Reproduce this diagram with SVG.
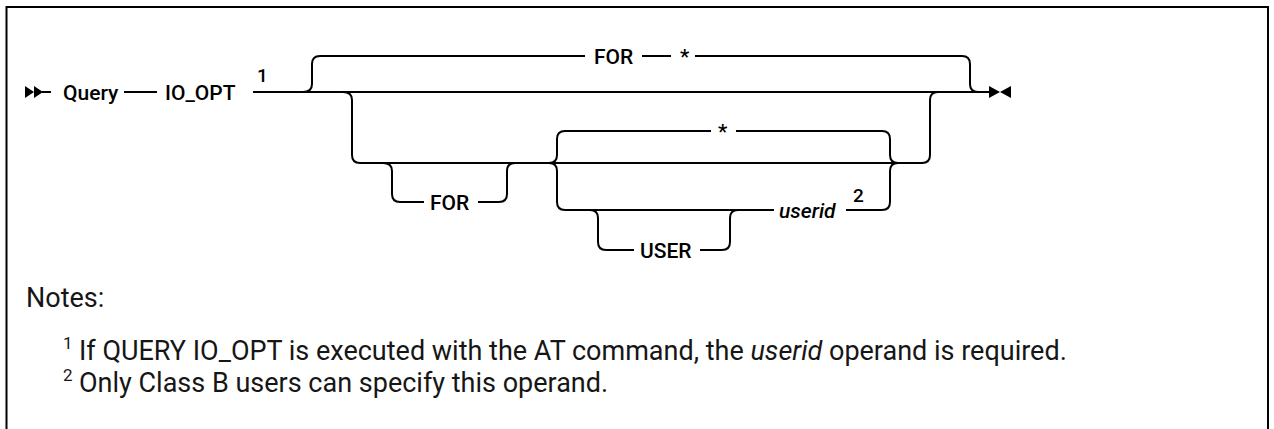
<svg xmlns="http://www.w3.org/2000/svg" width="1274" height="429" viewBox="0 0 1274 429">
<style>
.ln{fill:none;stroke:#000;stroke-width:2}
.kw{font-family:Roboto,"Liberation Sans",sans-serif;font-weight:500;font-size:21px;fill:#000}
.var{font-family:Roboto,"Liberation Sans",sans-serif;font-weight:500;font-style:italic;font-size:21px;fill:#000}
.sup{font-family:Roboto,"Liberation Sans",sans-serif;font-weight:500;font-size:19px;fill:#000}
.nt{font-family:Roboto,"Liberation Sans",sans-serif;font-size:27px;fill:#161616}
.nsup{font-family:Roboto,"Liberation Sans",sans-serif;font-size:17px;fill:#161616}
.mk{fill:#000}
</style>
<rect width="1274" height="429" fill="#fff"/>
<path class="ln" d="M6.5,429 V7 H1268 V429"/>
<g id="connectors">
  <path class="ln" d="M42,92 H51"/>
  <path class="ln" d="M124,92 H157"/>
  <path class="ln" d="M253,92 H989"/>
  <path class="ln" d="M303,92 Q312,92 312,84 V64 Q312,56 320,56 H585"/>
  <path class="ln" d="M642,56 H671"/>
  <path class="ln" d="M695,56 H962 Q970,56 970,64 V84 Q970,92 978,92"/>
  <path class="ln" d="M343,92 Q352,92 352,100 V155 Q352,163 360,163 H922 Q930,163 930,155 V100 Q930,92 938,92"/>
  <path class="ln" d="M383,163 Q392,163 392,171 V194 Q392,202 400,202 H424"/>
  <path class="ln" d="M478,202 H499 Q507,202 507,194 V171 Q507,163 515,163"/>
  <path class="ln" d="M549,163 Q557,163 557,155 V139 Q557,131 565,131 H711"/>
  <path class="ln" d="M736,131 H882 Q890,131 890,139 V155 Q890,163 898,163"/>
  <path class="ln" d="M549,163 Q557,163 557,171 V202 Q557,210 565,210 H774"/>
  <path class="ln" d="M846,210 H882 Q890,210 890,202 V171 Q890,163 898,163"/>
  <path class="ln" d="M590,210 Q598,210 598,218 V242 Q598,250 606,250 H634"/>
  <path class="ln" d="M700,250 H722 Q730,250 730,242 V218 Q730,210 738,210"/>
</g>
<g id="start"><path class="mk" d="M25,86 L34,92 L25,98 Z M34,86 L43,92 L34,98 Z"/></g>
<g id="end"><path class="mk" d="M989,86 L1000,92 L989,98 Z M1011,86 L1000,92 L1011,98 Z"/></g>
<g id="query"><text class="kw" x="63" y="99.5">Query</text></g>
<g id="io_opt"><text class="kw" x="165" y="99.5">IO_OPT</text><text class="sup" x="257" y="82">1</text></g>
<g id="for_star"><text class="kw" x="594" y="63.5">FOR</text><text class="kw" x="680" y="63.5">*</text></g>
<g id="for_opt"><text class="kw" x="430" y="209.5">FOR</text></g>
<g id="star_default"><text class="kw" x="718" y="138.5">*</text></g>
<g id="user_opt"><text class="kw" x="640" y="257.5">USER</text></g>
<g id="userid"><text class="var" x="779" y="217.5">userid</text><text class="sup" x="853" y="202">2</text></g>
<g id="notes">
  <text class="nt" x="26" y="307">Notes:</text>
  <text class="nsup" x="63" y="349">1</text>
  <text class="nt" x="79" y="360">If QUERY IO_OPT is executed with the AT command, the <tspan font-style="italic">userid</tspan> operand is required.</text>
  <text class="nsup" x="63" y="381">2</text>
  <text class="nt" x="79" y="392">Only Class B users can specify this operand.</text>
</g>
</svg>
